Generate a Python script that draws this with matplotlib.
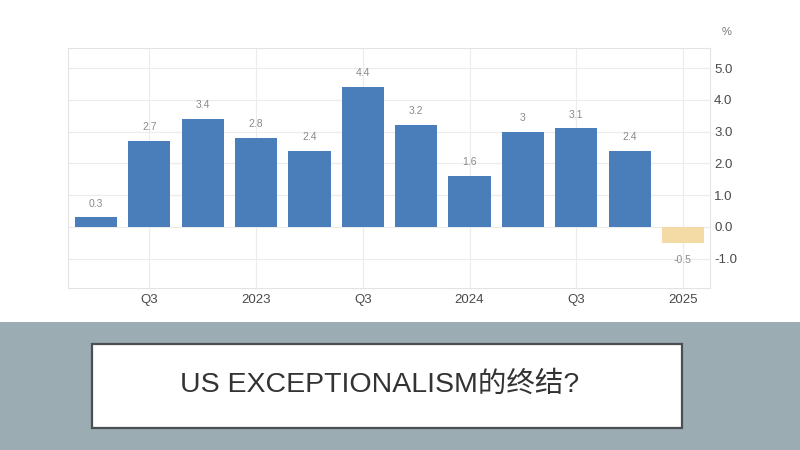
import matplotlib
matplotlib.use("Agg")
import matplotlib.pyplot as plt
from matplotlib.patches import Rectangle

# US GDP growth, quarter on quarter annualised (%)
quarters = ["2022Q2", "2022Q3", "2022Q4", "2023Q1", "2023Q2", "2023Q3",
            "2023Q4", "2024Q1", "2024Q2", "2024Q3", "2024Q4", "2025Q1"]
growth = [0.3, 2.7, 3.4, 2.8, 2.4, 4.4, 3.2, 1.6, 3.0, 3.1, 2.4, -0.5]
value_labels = ["0.3", "2.7", "3.4", "2.8", "2.4", "4.4",
                "3.2", "1.6", "3", "3.1", "2.4", "-0.5"]
tick_quarters = ["2022Q3", "2023Q1", "2023Q3", "2024Q1", "2024Q3", "2025Q1"]
tick_labels = ["Q3", "2023", "Q3", "2024", "Q3", "2025"]
y_ticks = [-1.0, 0.0, 1.0, 2.0, 3.0, 4.0, 5.0]
title = "US EXCEPTIONALISM的终结?"

BLUE = "#4a7ebb"
TAN = "#f4dba6"
GRID = "#ececec"
BAND = "#9badb3"

plt.rcParams["font.family"] = ["Liberation Sans", "Noto Sans CJK SC", "DejaVu Sans"]

fig = plt.figure(figsize=(8, 4.5), dpi=100)
fig.patch.set_facecolor("white")

# grey band with the caption box
fig.patches.append(Rectangle((0, 0), 1, 128 / 450, transform=fig.transFigure,
                             facecolor=BAND, edgecolor="none", zorder=0))
fig.patches.append(Rectangle((92 / 800, 22 / 450), 590 / 800, 84 / 450,
                             transform=fig.transFigure, facecolor="white",
                             edgecolor="#4a4f52", lw=1.6, zorder=1))
fig.text(380 / 800, 1 - 392 / 450, title, ha="center", va="baseline",
         fontsize=20.5, color="#333333", zorder=2)

ax = fig.add_axes([68 / 800, 1 - 288 / 450, 642 / 800, 240 / 450])
x = list(range(len(quarters)))
colors = [BLUE if v >= 0 else TAN for v in growth]
ax.bar(x, growth, width=0.79, color=colors, zorder=3)

for xi, v, lab in zip(x, growth, value_labels):
    if v >= 0:
        ax.annotate(lab, (xi, v), xytext=(0, 10), textcoords="offset points",
                    ha="center", va="center", fontsize=7.5, color="#8a8a8a")
    else:
        ax.annotate(lab, (xi, v), xytext=(0, -12), textcoords="offset points",
                    ha="center", va="center", fontsize=7.5, color="#8a8a8a")

ax.set_xlim(-0.525, 11.507)
ax.set_ylim(-1.92, 5.63)
ax.set_xticks([quarters.index(q) for q in tick_quarters])
ax.set_xticklabels(tick_labels)
ax.set_yticks(y_ticks)
ax.set_yticklabels([f"{t:.1f}" for t in y_ticks])
ax.yaxis.tick_right()
ax.tick_params(axis="both", length=0, labelsize=9.5, colors="#4a4a4a")
ax.tick_params(axis="y", pad=3)
ax.tick_params(axis="x", pad=4)
ax.grid(True, color=GRID, lw=0.8, zorder=0)
ax.set_axisbelow(True)
for s in ax.spines.values():
    s.set_color("#e3e3e3")
    s.set_linewidth(0.8)

fig.text(727 / 800, 1 - 32 / 450, "%", ha="center", va="center",
         fontsize=8, color="#777777")

fig.savefig("out.png", dpi=100)
